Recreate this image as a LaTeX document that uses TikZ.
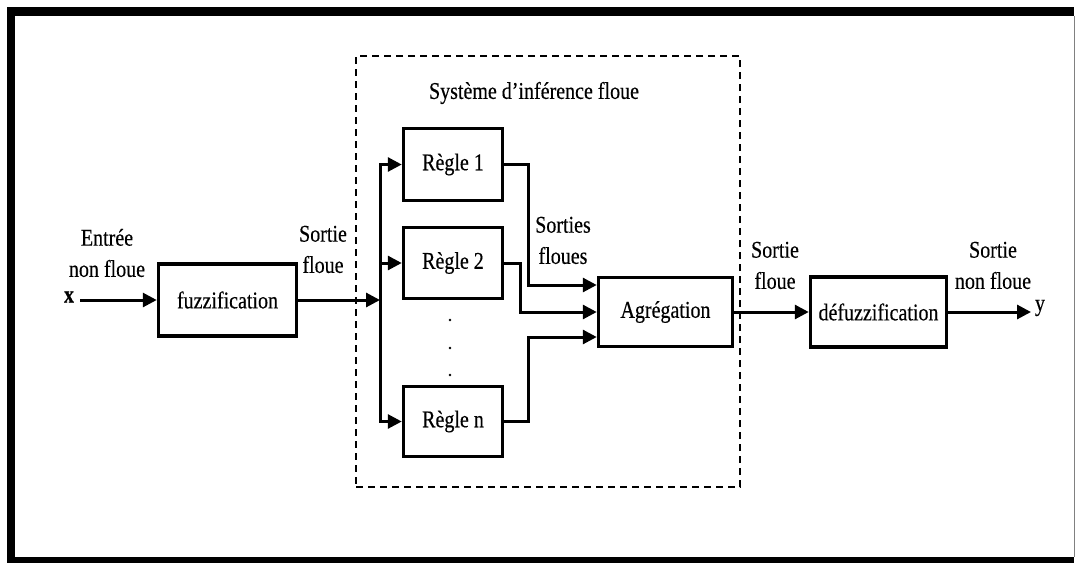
\documentclass[tikz,border=0pt]{standalone}
\usepackage{fontspec}
\usepackage{graphicx}
\setmainfont{Liberation Serif}[FakeBold=0.4]
\usetikzlibrary{arrows.meta}
\newcommand\vstr[1]{\scalebox{1}[1.2]{#1}}
\newcommand\twol[2]{\vstr{\begin{tabular}{@{}c@{}}#1\\#2\end{tabular}}}
\begin{document}
\begin{tikzpicture}[x=1pt,y=-1pt,
  txt/.style={font=\fontsize{20}{26}\selectfont},
  box/.style={txt,draw,line width=3.5pt,inner sep=0pt},
  lbl/.style={txt,align=center,inner sep=0pt},
  conn/.style={line width=3pt,line cap=rect},
  arr/.style={conn,-{Triangle[length=14pt,width=14pt]}},
  fisbox/.style={draw,line width=2.8pt,dash pattern=on 7pt off 5pt,inner sep=0pt}]
\useasboundingbox (0,0) rectangle (1076,563);
% frame
\fill[black] (7,7) rectangle (1074,563);
\fill[white] (15,16) rectangle (1074,557);
\draw[gray,line width=1pt] (1074.5,16) -- (1074.5,557);
% dashed inference system box
\node[fisbox,minimum width=384pt,minimum height=431pt] (fis) at (548,271.5) {};
\node[lbl] (title) at (534,93) {\vstr{Système d'inférence floue}};
% blocks
\node[box,minimum width=138pt,minimum height=72pt] (fuzz) at (227.5,300) {\vstr{fuzzification}};
\node[box,minimum width=99pt,minimum height=72pt] (R1) at (453,164.5) {\vstr{Règle 1}};
\node[box,minimum width=99pt,minimum height=71pt] (R2) at (453,263) {\vstr{Règle 2}};
\node[box,minimum width=99pt,minimum height=70pt] (Rn) at (453,421.5) {\vstr{Règle n}};
\node[box,minimum width=134pt,minimum height=69pt] (Agr) at (665.5,312) {\vstr{Agrégation}};
\node[box,minimum width=136pt,minimum height=70pt] (Def) at (878.5,312) {\vstr{défuzzification}};
% labels
\node[lbl] (xl) at (69,297) {\vstr{\textbf{x}}};
\node[lbl] (yl) at (1040,308) {\vstr{y}};
\node[lbl] (l1) at (107,255) {\twol{Entrée}{non floue}};
\node[lbl] (l2) at (323,251) {\twol{Sortie}{floue}};
\node[lbl] (l3) at (563,242) {\twol{Sorties}{floues}};
\node[lbl] (l4) at (775,267) {\twol{Sortie}{floue}};
\node[lbl] (l5) at (993,267) {\twol{Sortie}{non floue}};
% dots
\fill (450,320) circle (1.4);
\fill (450,348) circle (1.4);
\fill (450,375) circle (1.4);
% connectors
\coordinate (xin) at (81,300);
\coordinate (bus) at (380,300);
\coordinate (yout) at (1031,312);
\draw[arr] (xin) -- (fuzz.west);
\draw[arr] (fuzz.east) -- (bus);
\draw[arr] (Rn.west -| bus) -- (R1.west -| bus) -- (R1.west);
\draw[arr] (R2.west -| bus) -- (R2.west);
\draw[arr] (Rn.west -| bus) -- (Rn.west);
\draw[arr] (R1.east) -- ++(24,0) |- ([yshift=27pt]Agr.west);
\draw[arr] (R2.east) -- ++(16,0) |- (Agr.west);
\draw[arr] (Rn.east) -- ++(24,0) |- ([yshift=-25pt]Agr.west);
\draw[arr] (Agr.east) -- (Def.west);
\draw[arr] (Def.east) -- (yout);
\end{tikzpicture}
\end{document}
